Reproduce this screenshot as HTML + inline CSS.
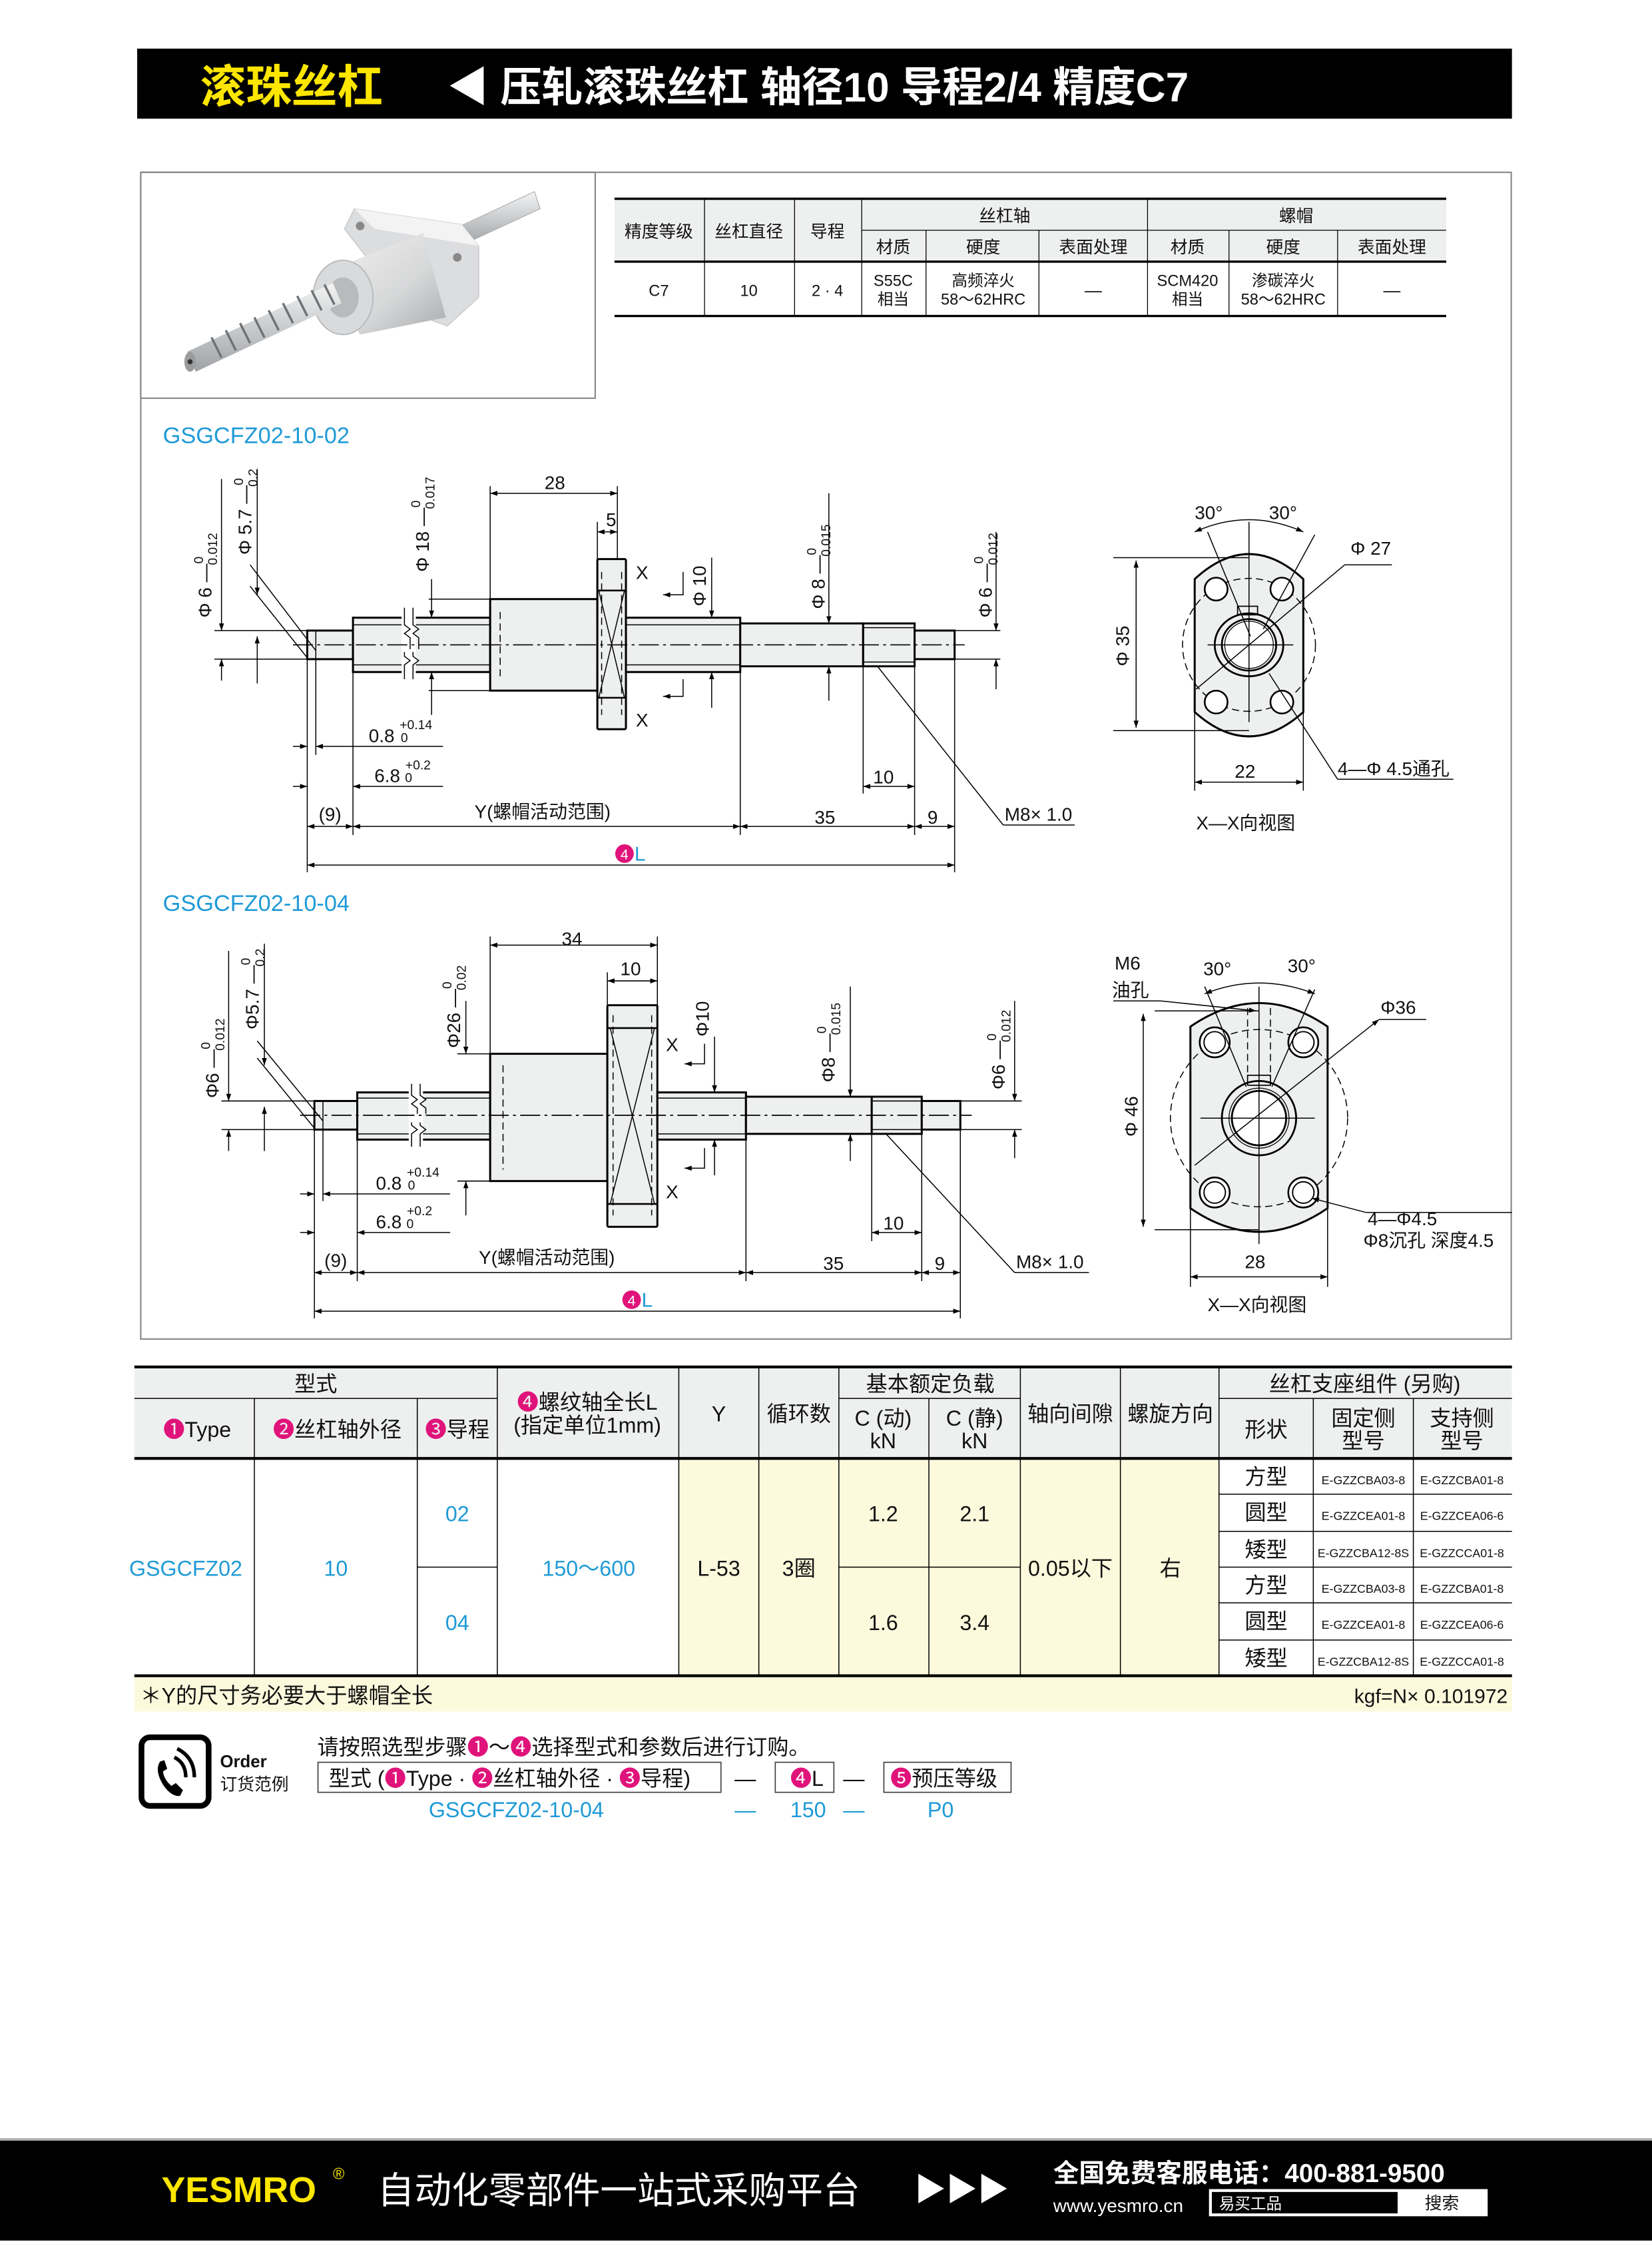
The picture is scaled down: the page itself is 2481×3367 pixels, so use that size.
<!DOCTYPE html>
<html><head><meta charset="utf-8"><style>
html,body{margin:0;padding:0;background:#fff}
svg{display:block}
text{font-family:"Liberation Sans","Noto Sans CJK SC",sans-serif;fill:#111}
.b{fill:#1e9ad6}
.m{fill:#e0137a}
.w{fill:#fff}
.cl{stroke:#000;stroke-width:.8;stroke-dasharray:14 3 2 3;fill:none}
.ln{stroke:#000;stroke-width:.7;fill:none}
.ol{stroke:#000;stroke-width:1.4;fill:#eef0ef}
.dsh{stroke:#000;stroke-width:.7;stroke-dasharray:5 3;fill:none}
.g{fill:#eef0ef}
.y{fill:#fdf9dc}
</style></head><body>
<svg width="2481" height="3367" viewBox="0 0 1156 1568" preserveAspectRatio="none" xmlns="http://www.w3.org/2000/svg">
<defs>
<marker id="a" viewBox="0 0 10 10" refX="10" refY="5" markerWidth="9" markerHeight="5" orient="auto-start-reverse" markerUnits="userSpaceOnUse"><path d="M0,1.5 L10,5 L0,8.5z" fill="#000"/></marker>
<linearGradient id="sh" x1="0" y1="0" x2="0" y2="1"><stop offset="0" stop-color="#f4f4f4"/><stop offset=".5" stop-color="#c9cbcd"/><stop offset="1" stop-color="#9fa2a5"/></linearGradient>
<linearGradient id="nb" x1="0" y1="0" x2="1" y2="1"><stop offset="0" stop-color="#f2f2f2"/><stop offset=".6" stop-color="#d6d7d8"/><stop offset="1" stop-color="#a8aaac"/></linearGradient>
</defs>
<rect width="1156" height="1568" fill="#fff"/>
<!-- header -->
<rect x="96" y="34" width="962" height="49" fill="#000"/>
<text x="140" y="72" font-size="32" font-weight="bold" style="fill:#ffe600">滚珠丝杠</text>
<text x="313" y="71" font-size="29" font-weight="bold" class="w">◀ 压轧滚珠丝杠 轴径10 导程2/4 精度C7</text>
<!-- main frame -->
<rect x="98.5" y="120.5" width="959" height="816" fill="none" stroke="#888" stroke-width="1"/>
<rect x="98.5" y="120.5" width="318" height="158" fill="none" stroke="#888" stroke-width="1"/>
<!-- photo -->
<g>
<polygon points="318,160 374,134 378,146 322,172" fill="url(#sh)" stroke="#aaa" stroke-width=".5"/>
<polygon points="248,146 323,157 335,172 335,208 313,228 286,218 241,160" fill="#dcdddf" stroke="#c4c5c6" stroke-width=".6"/>
<polygon points="248,146 323,157 335,172 262,160" fill="#f3f3f3"/>
<circle cx="252" cy="158" r="3" fill="#888"/><circle cx="320" cy="180" r="3" fill="#888"/><circle cx="306" cy="214" r="3" fill="#888"/>
<polygon points="228,190 296,163 312,222 252,234" fill="url(#nb)"/>
<ellipse cx="240" cy="208" rx="21" ry="26" fill="#d9dadb" stroke="#b5b6b8" stroke-width=".8"/>
<ellipse cx="240" cy="208" rx="11" ry="14" fill="#b8babc"/>
<polygon points="131,246 233,198 239,212 137,260" fill="url(#sh)"/>
<g stroke="#6f7274" stroke-width="1.6">
<line x1="148" y1="236" x2="155" y2="250"/><line x1="158" y1="231" x2="165" y2="245"/><line x1="168" y1="226" x2="175" y2="240"/><line x1="178" y1="222" x2="185" y2="236"/><line x1="188" y1="217" x2="195" y2="231"/><line x1="198" y1="212" x2="205" y2="226"/><line x1="208" y1="207" x2="215" y2="221"/><line x1="218" y1="203" x2="225" y2="217"/><line x1="227" y1="199" x2="234" y2="213"/></g>
<ellipse cx="133" cy="253" rx="4" ry="7" fill="#9a9c9e"/>
<circle cx="133" cy="253" r="1.8" fill="#333"/>
</g>
<!-- spec table -->
<rect x="430" y="139" width="582" height="44" class="g"/>
<g stroke="#000" fill="none">
<line x1="430" y1="139" x2="1012" y2="139" stroke-width="1.6"/>
<line x1="430" y1="183" x2="1012" y2="183" stroke-width="1.6"/>
<line x1="430" y1="221" x2="1012" y2="221" stroke-width="1.6"/>
<line x1="603" y1="161" x2="1012" y2="161" stroke-width=".6"/>
<g stroke-width=".6"><line x1="493" y1="139" x2="493" y2="221"/><line x1="556" y1="139" x2="556" y2="221"/><line x1="603" y1="139" x2="603" y2="221"/><line x1="648" y1="161" x2="648" y2="221"/><line x1="727" y1="161" x2="727" y2="221"/><line x1="803" y1="139" x2="803" y2="221"/><line x1="860" y1="161" x2="860" y2="221"/><line x1="936" y1="161" x2="936" y2="221"/></g>
</g>
<g font-size="12" text-anchor="middle">
<text x="461" y="166">精度等级</text><text x="524" y="166">丝杠直径</text><text x="579" y="166">导程</text>
<text x="703" y="155">丝杠轴</text><text x="907" y="155">螺帽</text>
<text x="625" y="177">材质</text><text x="688" y="177">硬度</text><text x="765" y="177">表面处理</text>
<text x="831" y="177">材质</text><text x="898" y="177">硬度</text><text x="974" y="177">表面处理</text>
<text x="461" y="207" font-size="11">C7</text><text x="524" y="207" font-size="11">10</text><text x="579" y="207" font-size="11">2 · 4</text>
<text x="625" y="200" font-size="11">S55C</text><text x="625" y="213" font-size="11">相当</text>
<text x="688" y="200" font-size="11">高频淬火</text><text x="688" y="213" font-size="11">58〜62HRC</text>
<text x="765" y="207">—</text>
<text x="831" y="200" font-size="11">SCM420</text><text x="831" y="213" font-size="11">相当</text>
<text x="898" y="200" font-size="11">渗碳淬火</text><text x="898" y="213" font-size="11">58〜62HRC</text>
<text x="974" y="207">—</text>
</g>

<!-- ===== Drawing 1 ===== -->
<text x="114" y="310" font-size="16" class="b">GSGCFZ02-10-02</text>
<g>
<rect x="215" y="441" width="32" height="20" class="ol"/>
<line x1="221" y1="441" x2="221" y2="461" class="ln"/>
<rect x="247" y="432" width="96" height="38" class="ol"/>
<line x1="247" y1="437" x2="343" y2="437" class="ln"/><line x1="247" y1="465" x2="343" y2="465" class="ln"/>
<rect x="343" y="419" width="75" height="64" class="ol"/>
<rect x="418" y="391" width="20" height="119" class="ol" rx="1"/>
<line x1="418" y1="413" x2="438" y2="413" stroke="#000" stroke-width="1.2"/><line x1="418" y1="488" x2="438" y2="488" stroke="#000" stroke-width="1.2"/>
<line x1="419" y1="413" x2="437" y2="488" class="ln"/><line x1="437" y1="413" x2="419" y2="488" class="ln"/>
<rect x="438" y="432" width="80" height="38" class="ol"/>
<line x1="438" y1="437" x2="518" y2="437" class="ln"/><line x1="438" y1="465" x2="518" y2="465" class="ln"/>
<rect x="518" y="436" width="86" height="30" class="ol"/>
<rect x="604" y="436" width="36" height="30" class="ol"/>
<line x1="604" y1="439" x2="640" y2="439" class="ln"/><line x1="604" y1="463" x2="640" y2="463" class="ln"/>
<rect x="640" y="441" width="28" height="20" class="ol"/>
<rect x="281" y="425" width="10" height="50" fill="#fff"/>
<path d="M283,425 v12 l4,3 l-4,3 l4,3 v8 M289,425 v12 l4,3 l-4,3 l4,3 v8 M283,456 v3 l4,3 l-4,3 v10 M289,456 v3 l4,3 l-4,3 v10" class="ln"/>
<line x1="350" y1="428" x2="350" y2="474" class="dsh"/><line x1="421" y1="400" x2="421" y2="500" class="dsh"/><line x1="435" y1="400" x2="435" y2="500" class="dsh"/>
<line x1="205" y1="451" x2="675" y2="451" class="cl"/>
</g>
<g class="ln">
<line x1="150" y1="441" x2="215" y2="441"/><line x1="150" y1="461" x2="215" y2="461"/>
<line x1="155" y1="335" x2="155" y2="441" marker-end="url(#a)"/><line x1="155" y1="461" x2="155" y2="476" marker-start="url(#a)"/>
<line x1="180" y1="328" x2="180" y2="416" marker-end="url(#a)"/><line x1="180" y1="445" x2="180" y2="478" marker-start="url(#a)"/>
<line x1="175" y1="395" x2="221" y2="455"/><line x1="175" y1="410" x2="215" y2="460"/>
<line x1="302" y1="405" x2="302" y2="432" marker-end="url(#a)"/><line x1="302" y1="470" x2="302" y2="500" marker-start="url(#a)"/>
<line x1="300" y1="419" x2="343" y2="419"/><line x1="300" y1="483" x2="343" y2="483"/>
<line x1="343" y1="340" x2="343" y2="419"/><line x1="432" y1="340" x2="432" y2="391"/><line x1="418" y1="365" x2="418" y2="391"/>
<line x1="343" y1="345" x2="432" y2="345" marker-start="url(#a)" marker-end="url(#a)"/>
<line x1="418" y1="372" x2="432" y2="372" marker-start="url(#a)" marker-end="url(#a)"/>
<path d="M478,400 v16 h-14" marker-end="url(#a)"/><path d="M478,475 v12 h-14" marker-end="url(#a)"/>
<line x1="498" y1="390" x2="498" y2="432" marker-end="url(#a)"/><line x1="498" y1="470" x2="498" y2="495" marker-start="url(#a)"/>
<line x1="580" y1="345" x2="580" y2="436" marker-end="url(#a)"/><line x1="580" y1="466" x2="580" y2="490" marker-start="url(#a)"/>
<line x1="660" y1="441" x2="700" y2="441"/><line x1="660" y1="461" x2="700" y2="461"/>
<line x1="697" y1="372" x2="697" y2="441" marker-end="url(#a)"/><line x1="697" y1="461" x2="697" y2="482" marker-start="url(#a)"/>
<line x1="614" y1="466" x2="702" y2="577"/><line x1="702" y1="577" x2="752" y2="577"/>
<line x1="215" y1="461" x2="215" y2="610"/><line x1="221" y1="461" x2="221" y2="528"/><line x1="247" y1="470" x2="247" y2="584"/>
<line x1="518" y1="470" x2="518" y2="584"/><line x1="604" y1="466" x2="604" y2="555"/><line x1="640" y1="466" x2="640" y2="584"/><line x1="668" y1="461" x2="668" y2="610"/>
<line x1="205" y1="522" x2="215" y2="522" marker-end="url(#a)"/><line x1="221" y1="522" x2="310" y2="522" marker-start="url(#a)"/>
<line x1="205" y1="550" x2="215" y2="550" marker-end="url(#a)"/><line x1="247" y1="550" x2="310" y2="550" marker-start="url(#a)"/>
<line x1="604" y1="550" x2="640" y2="550" marker-start="url(#a)" marker-end="url(#a)"/>
<line x1="215" y1="578" x2="247" y2="578" marker-start="url(#a)" marker-end="url(#a)"/>
<line x1="247" y1="578" x2="518" y2="578" marker-start="url(#a)" marker-end="url(#a)"/>
<line x1="518" y1="578" x2="640" y2="578" marker-start="url(#a)" marker-end="url(#a)"/>
<line x1="640" y1="578" x2="668" y2="578" marker-start="url(#a)" marker-end="url(#a)"/>
<line x1="215" y1="605" x2="668" y2="605" marker-start="url(#a)" marker-end="url(#a)"/>
</g>
<g font-size="13">
<text transform="translate(148,432) rotate(-90)">Φ 6 —<tspan font-size="9" dy="-6">0</tspan><tspan font-size="9" dx="-6" dy="10">0.012</tspan></text>
<text transform="translate(176,388) rotate(-90)">Φ 5.7 —<tspan font-size="9" dy="-6">0</tspan><tspan font-size="9" dx="-6" dy="10">0.2</tspan></text>
<text transform="translate(300,400) rotate(-90)">Φ 18 —<tspan font-size="9" dy="-6">0</tspan><tspan font-size="9" dx="-6" dy="10">0.017</tspan></text>
<text transform="translate(494,424) rotate(-90)">Φ 10</text>
<text transform="translate(577,426) rotate(-90)">Φ 8 —<tspan font-size="9" dy="-6">0</tspan><tspan font-size="9" dx="-6" dy="10">0.015</tspan></text>
<text transform="translate(694,432) rotate(-90)">Φ 6 —<tspan font-size="9" dy="-6">0</tspan><tspan font-size="9" dx="-6" dy="10">0.012</tspan></text>
<text x="381" y="342">28</text><text x="424" y="368">5</text>
<text x="445" y="405">X</text><text x="445" y="508">X</text>
<text x="258" y="519">0.8 <tspan font-size="9" dy="-9">+0.14</tspan><tspan font-size="9" dx="-22" dy="9">0</tspan></text>
<text x="262" y="547">6.8 <tspan font-size="9" dy="-9">+0.2</tspan><tspan font-size="9" dx="-18" dy="9">0</tspan></text>
<text x="611" y="548">10</text>
<text x="223" y="574">(9)</text><text x="332" y="572">Y(螺帽活动范围)</text><text x="570" y="576">35</text><text x="649" y="576">9</text>
<text x="703" y="574">M8× 1.0</text>
</g>
<circle cx="437" cy="597" r="6.5" class="m"/><text x="437" y="601" font-size="10" class="w" text-anchor="middle">4</text><text x="444" y="602" font-size="14" class="b">L</text>
<!-- view 1 -->
<g>
<path d="M836,405 Q874,370 912,405 V498 Q874,532 836,498 Z" class="ol"/>
<circle cx="874" cy="451" r="46.5" class="dsh"/>
<g fill="#fff" stroke="#000" stroke-width="1.2"><circle cx="851" cy="412" r="8"/><circle cx="897" cy="412" r="8"/><circle cx="851" cy="491" r="8"/><circle cx="897" cy="491" r="8"/></g>
<ellipse cx="874" cy="451" rx="24" ry="22" fill="none" stroke="#000" stroke-width="1.3"/>
<ellipse cx="874" cy="451" rx="19" ry="18" fill="#fff" stroke="#000" stroke-width="1.3"/>
<ellipse cx="874" cy="451" rx="17" ry="16.5" fill="none" stroke="#000" stroke-width=".6"/>
<rect x="866" y="424" width="14" height="6" fill="none" stroke="#000" stroke-width=".8"/>
<line x1="874" y1="365" x2="874" y2="505" class="ln"/><line x1="845" y1="451" x2="905" y2="451" class="ln"/>
<path d="M779,390 H874 M779,511 H874" class="ln"/>
<line x1="795" y1="392" x2="795" y2="509" class="ln" marker-start="url(#a)" marker-end="url(#a)"/>
<line x1="845" y1="372" x2="875" y2="445" class="ln"/><line x1="920" y1="374" x2="884" y2="440" class="ln"/>
<path d="M836,372 Q874,355 912,372" class="ln" marker-start="url(#a)" marker-end="url(#a)"/>
<line x1="941" y1="395" x2="837" y2="482" class="ln"/><line x1="941" y1="395" x2="974" y2="395" class="ln"/>
<line x1="888" y1="471" x2="936" y2="545" class="ln"/><line x1="936" y1="545" x2="1017" y2="545" class="ln"/>
<line x1="836" y1="498" x2="836" y2="553" class="ln"/><line x1="912" y1="498" x2="912" y2="553" class="ln"/>
<line x1="836" y1="547" x2="912" y2="547" class="ln" marker-start="url(#a)" marker-end="url(#a)"/>
</g>
<g font-size="13">
<text x="836" y="363">30°</text><text x="888" y="363">30°</text><text x="945" y="388">Φ 27</text>
<text transform="translate(790,466) rotate(-90)">Φ 35</text>
<text x="864" y="544">22</text><text x="936" y="542">4—Φ 4.5通孔</text>
<text x="837" y="580">X—X向视图</text>
</g>

<!-- ===== Drawing 2 ===== -->
<text x="114" y="637" font-size="16" class="b">GSGCFZ02-10-04</text>
<g>
<rect x="220" y="770" width="30" height="20" class="ol"/>
<line x1="226" y1="770" x2="226" y2="790" class="ln"/>
<rect x="250" y="764" width="93" height="33" class="ol"/>
<line x1="250" y1="768" x2="343" y2="768" class="ln"/><line x1="250" y1="793" x2="343" y2="793" class="ln"/>
<rect x="343" y="737" width="82" height="89" class="ol"/>
<rect x="425" y="703" width="35" height="155" class="ol" rx="1"/>
<line x1="425" y1="719" x2="460" y2="719" stroke="#000" stroke-width="1.2"/><line x1="425" y1="842" x2="460" y2="842" stroke="#000" stroke-width="1.2"/>
<line x1="427" y1="719" x2="458" y2="842" class="ln"/><line x1="458" y1="719" x2="427" y2="842" class="ln"/>
<rect x="460" y="764" width="62" height="33" class="ol"/>
<line x1="460" y1="768" x2="522" y2="768" class="ln"/><line x1="460" y1="793" x2="522" y2="793" class="ln"/>
<rect x="522" y="767" width="88" height="26" class="ol"/>
<rect x="610" y="767" width="35" height="26" class="ol"/>
<line x1="610" y1="770" x2="645" y2="770" class="ln"/><line x1="610" y1="790" x2="645" y2="790" class="ln"/>
<rect x="645" y="770" width="27" height="20" class="ol"/>
<rect x="286" y="758" width="10" height="44" fill="#fff"/>
<path d="M288,758 v8 l4,3 l-4,3 l4,3 v4 M294,758 v8 l4,3 l-4,3 l4,3 v4 M288,785 v2 l4,3 l-4,3 v9 M294,785 v2 l4,3 l-4,3 v9" class="ln"/>
<line x1="352" y1="745" x2="352" y2="818" class="dsh"/><line x1="429" y1="710" x2="429" y2="850" class="dsh"/><line x1="456" y1="710" x2="456" y2="850" class="dsh"/>
<line x1="210" y1="780" x2="680" y2="780" class="cl"/>
</g>
<g class="ln">
<line x1="155" y1="770" x2="220" y2="770"/><line x1="155" y1="790" x2="220" y2="790"/>
<line x1="160" y1="665" x2="160" y2="770" marker-end="url(#a)"/><line x1="160" y1="790" x2="160" y2="805" marker-start="url(#a)"/>
<line x1="185" y1="660" x2="185" y2="745" marker-end="url(#a)"/><line x1="185" y1="774" x2="185" y2="805" marker-start="url(#a)"/>
<line x1="180" y1="728" x2="226" y2="784"/><line x1="180" y1="740" x2="220" y2="789"/>
<line x1="326" y1="700" x2="326" y2="737" marker-end="url(#a)"/><line x1="326" y1="826" x2="326" y2="850" marker-start="url(#a)"/>
<line x1="320" y1="737" x2="343" y2="737"/><line x1="320" y1="826" x2="343" y2="826"/>
<line x1="343" y1="655" x2="343" y2="737"/><line x1="460" y1="655" x2="460" y2="703"/><line x1="425" y1="680" x2="425" y2="703"/>
<line x1="343" y1="661" x2="460" y2="661" marker-start="url(#a)" marker-end="url(#a)"/>
<line x1="425" y1="686" x2="460" y2="686" marker-start="url(#a)" marker-end="url(#a)"/>
<path d="M493,730 v14 h-14" marker-end="url(#a)"/><path d="M493,803 v14 h-14" marker-end="url(#a)"/>
<line x1="500" y1="725" x2="500" y2="764" marker-end="url(#a)"/><line x1="500" y1="797" x2="500" y2="822" marker-start="url(#a)"/>
<line x1="595" y1="690" x2="595" y2="767" marker-end="url(#a)"/><line x1="595" y1="793" x2="595" y2="812" marker-start="url(#a)"/>
<line x1="665" y1="770" x2="715" y2="770"/><line x1="665" y1="790" x2="715" y2="790"/>
<line x1="710" y1="700" x2="710" y2="770" marker-end="url(#a)"/><line x1="710" y1="790" x2="710" y2="810" marker-start="url(#a)"/>
<line x1="620" y1="793" x2="710" y2="890"/><line x1="710" y1="890" x2="762" y2="890"/>
<line x1="220" y1="790" x2="220" y2="922"/><line x1="226" y1="790" x2="226" y2="840"/><line x1="250" y1="797" x2="250" y2="896"/>
<line x1="522" y1="797" x2="522" y2="896"/><line x1="610" y1="793" x2="610" y2="868"/><line x1="645" y1="793" x2="645" y2="896"/><line x1="672" y1="790" x2="672" y2="922"/>
<line x1="210" y1="835" x2="220" y2="835" marker-end="url(#a)"/><line x1="226" y1="835" x2="315" y2="835" marker-start="url(#a)"/>
<line x1="210" y1="862" x2="220" y2="862" marker-end="url(#a)"/><line x1="250" y1="862" x2="315" y2="862" marker-start="url(#a)"/>
<line x1="610" y1="862" x2="645" y2="862" marker-start="url(#a)" marker-end="url(#a)"/>
<line x1="220" y1="890" x2="250" y2="890" marker-start="url(#a)" marker-end="url(#a)"/>
<line x1="250" y1="890" x2="522" y2="890" marker-start="url(#a)" marker-end="url(#a)"/>
<line x1="522" y1="890" x2="645" y2="890" marker-start="url(#a)" marker-end="url(#a)"/>
<line x1="645" y1="890" x2="672" y2="890" marker-start="url(#a)" marker-end="url(#a)"/>
<line x1="220" y1="917" x2="672" y2="917" marker-start="url(#a)" marker-end="url(#a)"/>
</g>
<g font-size="13">
<text transform="translate(153,768) rotate(-90)">Φ6 —<tspan font-size="9" dy="-6">0</tspan><tspan font-size="9" dx="-6" dy="10">0.012</tspan></text>
<text transform="translate(181,720) rotate(-90)">Φ5.7 —<tspan font-size="9" dy="-6">0</tspan><tspan font-size="9" dx="-6" dy="10">0.2</tspan></text>
<text transform="translate(322,733) rotate(-90)">Φ26 —<tspan font-size="9" dy="-6">0</tspan><tspan font-size="9" dx="-6" dy="10">0.02</tspan></text>
<text transform="translate(496,725) rotate(-90)">Φ10</text>
<text transform="translate(584,757) rotate(-90)">Φ8 —<tspan font-size="9" dy="-6">0</tspan><tspan font-size="9" dx="-6" dy="10">0.015</tspan></text>
<text transform="translate(703,762) rotate(-90)">Φ6 —<tspan font-size="9" dy="-6">0</tspan><tspan font-size="9" dx="-6" dy="10">0.012</tspan></text>
<text x="393" y="661">34</text><text x="434" y="682">10</text>
<text x="466" y="735">X</text><text x="466" y="838">X</text>
<text x="263" y="832">0.8 <tspan font-size="9" dy="-9">+0.14</tspan><tspan font-size="9" dx="-22" dy="9">0</tspan></text>
<text x="263" y="859">6.8 <tspan font-size="9" dy="-9">+0.2</tspan><tspan font-size="9" dx="-18" dy="9">0</tspan></text>
<text x="618" y="860">10</text>
<text x="227" y="886">(9)</text><text x="335" y="884">Y(螺帽活动范围)</text><text x="576" y="888">35</text><text x="654" y="888">9</text>
<text x="711" y="887">M8× 1.0</text>
</g>
<circle cx="442" cy="909" r="6.5" class="m"/><text x="442" y="913" font-size="10" class="w" text-anchor="middle">4</text><text x="449" y="914" font-size="14" class="b">L</text>
<!-- view 2 -->
<g>
<path d="M833,718 Q881,685 929,718 V845 Q881,878 833,845 Z" class="ol"/>
<circle cx="881" cy="782" r="62" class="dsh"/>
<g fill="#fff" stroke="#000" stroke-width="1.2"><circle cx="850" cy="729" r="10.5"/><circle cx="912" cy="729" r="10.5"/><circle cx="850" cy="834" r="10.5"/><circle cx="912" cy="834" r="10.5"/></g>
<g fill="none" stroke="#000" stroke-width=".9"><circle cx="850" cy="729" r="7.5"/><circle cx="912" cy="729" r="7.5"/><circle cx="850" cy="834" r="7.5"/><circle cx="912" cy="834" r="7.5"/></g>
<circle cx="881" cy="782" r="26" fill="none" stroke="#000" stroke-width="1.3"/>
<circle cx="881" cy="782" r="19" fill="#fff" stroke="#000" stroke-width="1.3"/>
<circle cx="881" cy="782" r="21" fill="none" stroke="#000" stroke-width=".6"/>
<rect x="873" y="752" width="16" height="7" fill="none" stroke="#000" stroke-width=".8"/>
<line x1="873" y1="705" x2="873" y2="752" class="dsh"/><line x1="889" y1="705" x2="889" y2="752" class="dsh"/>
<line x1="881" y1="690" x2="881" y2="870" class="ln"/><line x1="840" y1="782" x2="920" y2="782" class="ln"/>
<path d="M808,707 H881 M808,860 H881" class="ln"/>
<line x1="800" y1="709" x2="800" y2="858" class="ln" marker-start="url(#a)" marker-end="url(#a)"/>
<line x1="843" y1="690" x2="872" y2="760" class="ln"/><line x1="920" y1="692" x2="890" y2="760" class="ln"/>
<path d="M843,695 Q881,680 920,695" class="ln" marker-start="url(#a)" marker-end="url(#a)"/>
<line x1="779" y1="700" x2="812" y2="700" class="ln"/><line x1="812" y1="700" x2="879" y2="707" class="ln" marker-end="url(#a)"/>
<line x1="965" y1="713" x2="998" y2="713" class="ln"/><line x1="965" y1="713" x2="836" y2="815" class="ln" marker-start="url(#a)"/>
<line x1="956" y1="848" x2="1058" y2="848" class="ln"/><line x1="956" y1="848" x2="918" y2="838" class="ln" marker-end="url(#a)"/>
<line x1="833" y1="845" x2="833" y2="900" class="ln"/><line x1="929" y1="845" x2="929" y2="900" class="ln"/>
<line x1="833" y1="893" x2="929" y2="893" class="ln" marker-start="url(#a)" marker-end="url(#a)"/>
</g>
<g font-size="13">
<text x="780" y="678">M6</text><text x="778" y="697">油孔</text>
<text x="842" y="682">30°</text><text x="901" y="680">30°</text><text x="966" y="709">Φ36</text>
<text transform="translate(796,795) rotate(-90)">Φ 46</text>
<text x="871" y="887">28</text><text x="957" y="857">4—Φ4.5</text><text x="954" y="872">Φ8沉孔 深度4.5</text>
<text x="845" y="917">X—X向视图</text>
</g>

<!-- ===== Bottom table ===== -->
<rect x="94" y="957" width="964" height="63" class="g"/>
<rect x="475" y="1020" width="378" height="152" class="y"/>
<rect x="94" y="1172" width="964" height="25" class="y"/>
<g stroke="#000" fill="none">
<line x1="94" y1="956" x2="1058" y2="956" stroke-width="2"/>
<line x1="94" y1="1020" x2="1058" y2="1020" stroke-width="2"/>
<line x1="94" y1="1172" x2="1058" y2="1172" stroke-width="2"/>
<g stroke-width=".7">
<line x1="94" y1="978" x2="348" y2="978"/><line x1="587" y1="978" x2="714" y2="978"/><line x1="853" y1="978" x2="1058" y2="978"/>
<line x1="178" y1="978" x2="178" y2="1172"/><line x1="292" y1="978" x2="292" y2="1172"/><line x1="348" y1="956" x2="348" y2="1172"/>
<line x1="475" y1="956" x2="475" y2="1172"/><line x1="531" y1="956" x2="531" y2="1172"/><line x1="587" y1="956" x2="587" y2="1172"/>
<line x1="650" y1="978" x2="650" y2="1172"/><line x1="714" y1="956" x2="714" y2="1172"/><line x1="784" y1="956" x2="784" y2="1172"/>
<line x1="853" y1="956" x2="853" y2="1172"/><line x1="919" y1="978" x2="919" y2="1172"/><line x1="989" y1="978" x2="989" y2="1172"/>
<line x1="292" y1="1096" x2="348" y2="1096"/><line x1="587" y1="1096" x2="714" y2="1096"/>
<line x1="853" y1="1045" x2="1058" y2="1045"/><line x1="853" y1="1071" x2="1058" y2="1071"/><line x1="853" y1="1096" x2="1058" y2="1096"/><line x1="853" y1="1121" x2="1058" y2="1121"/><line x1="853" y1="1147" x2="1058" y2="1147"/>
</g></g>
<g font-size="15" text-anchor="middle">
<text x="221" y="973">型式</text>
<text x="138" y="1005"><tspan class="m">❶</tspan>Type</text>
<text x="236" y="1005"><tspan class="m">❷</tspan>丝杠轴外径</text>
<text x="320" y="1005"><tspan class="m">❸</tspan>导程</text>
<text x="411" y="986"><tspan class="m">❹</tspan>螺纹轴全长L</text>
<text x="411" y="1002">(指定单位1mm)</text>
<text x="503" y="994">Y</text><text x="559" y="994">循环数</text>
<text x="651" y="973">基本额定负载</text>
<text x="618" y="997">C (动)</text><text x="618" y="1013">kN</text>
<text x="682" y="997">C (静)</text><text x="682" y="1013">kN</text>
<text x="749" y="994">轴向间隙</text><text x="819" y="994">螺旋方向</text>
<text x="955" y="973">丝杠支座组件 (另购)</text>
<text x="886" y="1005">形状</text>
<text x="954" y="997">固定侧</text><text x="954" y="1013">型号</text>
<text x="1023" y="997">支持侧</text><text x="1023" y="1013">型号</text>
<text x="130" y="1102" class="b">GSGCFZ02</text><text x="235" y="1102" class="b">10</text>
<text x="320" y="1064" class="b">02</text><text x="320" y="1140" class="b">04</text>
<text x="412" y="1102" class="b">150〜600</text>
<text x="503" y="1102">L-53</text><text x="559" y="1102">3圈</text>
<text x="618" y="1064">1.2</text><text x="682" y="1064">2.1</text>
<text x="618" y="1140">1.6</text><text x="682" y="1140">3.4</text>
<text x="749" y="1102">0.05以下</text><text x="819" y="1102">右</text>
<text x="886" y="1038">方型</text><text x="886" y="1063">圆型</text><text x="886" y="1089">矮型</text>
<text x="886" y="1114">方型</text><text x="886" y="1139">圆型</text><text x="886" y="1165">矮型</text>
</g>
<g font-size="8.3" text-anchor="middle">
<text x="954" y="1038">E-GZZCBA03-8</text><text x="1023" y="1038">E-GZZCBA01-8</text>
<text x="954" y="1063">E-GZZCEA01-8</text><text x="1023" y="1063">E-GZZCEA06-6</text>
<text x="954" y="1089">E-GZZCBA12-8S</text><text x="1023" y="1089">E-GZZCCA01-8</text>
<text x="954" y="1114">E-GZZCBA03-8</text><text x="1023" y="1114">E-GZZCBA01-8</text>
<text x="954" y="1139">E-GZZCEA01-8</text><text x="1023" y="1139">E-GZZCEA06-6</text>
<text x="954" y="1165">E-GZZCBA12-8S</text><text x="1023" y="1165">E-GZZCCA01-8</text>
</g>
<text x="98" y="1191" font-size="15">＊Y的尺寸务必要大于螺帽全长</text>
<text x="1055" y="1191" font-size="14" text-anchor="end">kgf=N× 0.101972</text>

<!-- Order -->
<rect x="99" y="1215" width="47" height="48" rx="6" fill="none" stroke="#000" stroke-width="4"/>
<path d="M112,1232 q-4,6 2,16 q6,9 12,8 l2,-4 l-5,-5 l-3,2 q-5,-4 -6,-10 l3,-2 l-2,-6 z" fill="#000"/>
<path d="M122,1229 q8,4 8,14 M124,1223 q12,6 12,20" fill="none" stroke="#000" stroke-width="2.5"/>
<text x="154" y="1236" font-size="12" font-weight="bold">Order</text>
<text x="154" y="1252" font-size="12">订货范例</text>
<text x="222" y="1227" font-size="15">请按照选型步骤<tspan class="m">❶</tspan>〜<tspan class="m">❹</tspan>选择型式和参数后进行订购。</text>
<rect x="222.5" y="1232.5" width="282" height="21" fill="none" stroke="#444" stroke-width=".8"/>
<text x="230" y="1249" font-size="15">型式 (<tspan class="m">❶</tspan>Type · <tspan class="m">❷</tspan>丝杠轴外径 · <tspan class="m">❸</tspan>导程)</text>
<text x="514" y="1249" font-size="15">—</text>
<rect x="542.5" y="1232.5" width="41" height="21" fill="none" stroke="#444" stroke-width=".8"/>
<text x="553" y="1249" font-size="15"><tspan class="m">❹</tspan>L</text>
<text x="590" y="1249" font-size="15">—</text>
<rect x="618.5" y="1232.5" width="89" height="21" fill="none" stroke="#444" stroke-width=".8"/>
<text x="623" y="1249" font-size="15"><tspan class="m">❺</tspan>预压等级</text>
<g font-size="15"><text x="300" y="1271" class="b">GSGCFZ02-10-04</text><text x="514" y="1271" class="b">—</text><text x="553" y="1271" class="b">150</text><text x="590" y="1271" class="b">—</text><text x="649" y="1271" class="b">P0</text></g>

<!-- footer -->
<line x1="0" y1="1496" x2="1156" y2="1496" stroke="#999" stroke-width="1"/>
<rect x="0" y="1497" width="1156" height="70" fill="#000"/>
<text x="113" y="1540" font-size="25" font-weight="bold" style="fill:#ffe600">YESMRO</text>
<text x="233" y="1524" font-size="11" style="fill:#ffe600">®</text>
<text x="264" y="1541" font-size="26" class="w">自动化零部件一站式采购平台</text>
<text x="640" y="1539" font-size="22" class="w">▶▶▶</text>
<text x="737" y="1526" font-size="18" font-weight="bold" class="w">全国免费客服电话：400-881-9500</text>
<text x="737" y="1547" font-size="13" class="w">www.yesmro.cn</text>
<rect x="846" y="1531" width="195" height="19" fill="#fff"/>
<rect x="848" y="1533" width="130" height="15" fill="#000"/>
<text x="853" y="1545" font-size="11" class="w">易买工品</text>
<text x="997" y="1545" font-size="12">搜索</text>
</svg>
</body></html>
